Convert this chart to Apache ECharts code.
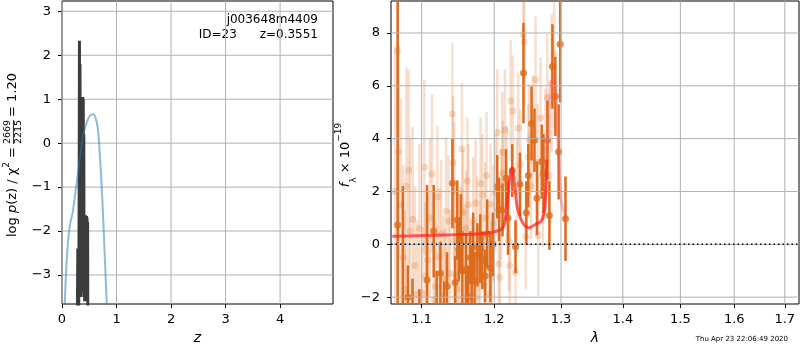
<!DOCTYPE html>
<html>
<head>
<meta charset="utf-8">
<script src="https://cdn.jsdelivr.net/npm/echarts@6/dist/echarts.min.js"></script>
<style>
  html, body { margin: 0; padding: 0; background: #fff; }
  #main { width: 800px; height: 350px; }
</style>
</head>
<body>
<div id="main"></div>
<script>
// p(z) panel
const zRange = [0, 4.97]
const logpRange = [-3.66, 3.234]
const zTicks = [0, 1, 2, 3, 4]
const logpTicks = [-3, -2, -1, 0, 1, 2, 3]
// thin curve (blue)
const blueZ = [0.03, 0.05, 0.08, 0.11, 0.14, 0.17, 0.20, 0.26, 0.325, 0.385, 0.447, 0.51, 0.57, 0.61, 0.66, 0.70, 0.74, 0.78, 0.82, 0.84]
const blueLogp = [-4.5, -3.66, -2.8, -2.25, -1.9, -1.72, -1.55, -0.99, -0.38, 0.15, 0.45, 0.62, 0.66, 0.6, 0.3, -0.38, -1.29, -2.43, -3.66, -4.3]
// spiky curve (black)
const blackZ = [0.27, 0.28, 0.29, 0.30, 0.31, 0.315, 0.32, 0.325, 0.33, 0.335, 0.34, 0.345, 0.35, 0.355, 0.36, 0.365, 0.37, 0.375, 0.38, 0.385, 0.39, 0.395, 0.40, 0.405, 0.41, 0.415, 0.42, 0.425, 0.43, 0.435, 0.44, 0.445, 0.45, 0.455, 0.46, 0.465, 0.47, 0.475, 0.48, 0.49]
const blackLogp = [-6, -6, -2.4, -6, -6, -1, 2.33, -3, 1.8, -2, 0.5, -3.5, 0.4, -3, 0.5, -2, 0.3, -3.4, 1.05, -1, 1.0, -3.3, 0.2, -3.5, -1.7, -3.6, -1.65, -3.5, -1.64, -3.6, -1.7, -3.5, -1.66, -3.6, -1.7, -3.5, -1.8, -6, -6, -6]

// spectrum panel
const lamRange = [1.0603, 1.7292]
const fluxRange = [-2.26, 9.21]
const lamTicks = [1.1, 1.2, 1.3, 1.4, 1.5, 1.6, 1.7]
const fluxTicks = [-2, 0, 2, 4, 6, 8]
const lightLam = [1.0655, 1.0688, 1.073, 1.078, 1.080, 1.085, 1.0882, 1.094, 1.101, 1.1035, 1.108, 1.1138, 1.118, 1.1236, 1.129, 1.1326, 1.136, 1.138, 1.1413, 1.1422, 1.1435, 1.146, 1.150, 1.153, 1.1545, 1.156, 1.160, 1.1634, 1.167, 1.1735, 1.176, 1.178, 1.1805, 1.183, 1.186, 1.187, 1.1948, 1.196, 1.2017, 1.2044, 1.2066, 1.2081, 1.2116, 1.2125, 1.2155, 1.2214, 1.2225, 1.2239, 1.2272, 1.231, 1.235, 1.2425, 1.244, 1.246, 1.25, 1.2515, 1.261, 1.265, 1.2686, 1.2787, 1.2854, 1.2893,
  1.070, 1.076, 1.083, 1.091, 1.097, 1.105, 1.111, 1.116, 1.121, 1.126, 1.131, 1.144, 1.148, 1.158, 1.162, 1.165, 1.170, 1.174, 1.180, 1.189, 1.192, 1.199, 1.210, 1.218, 1.233, 1.238, 1.254, 1.257, 1.264, 1.272, 1.276, 1.282]
const lightFlux = [2.0, 7.33, 1.5, -1.72, 2.2, 0.5, 0.95, -1.9, -1.85, 2.92, -0.6, 2.67, -1.6, -0.47, -1.3, 1.26, 0.88, -1.1, 4.93, 3.1, 0.13, -1.17, -0.4, -0.03, 3.61, 1.2, 0.6, 1.5, -1.15, 1.55, 0.38, -1.4, 2.3, 1.87, -1.55, 1.0, 1.52, -1.15, 1.95, 4.23, -0.75, -1.25, 3.48, 2.68, 4.33, 0.13, -0.8, 5.43, 5.05, -1.05, 4.4, 7.94, 7.66, 0.3, 3.3, 3.96, 6.23, 0.33, 4.78, 5.56, 6.1, 7.2,
  3.5, -0.5, 2.8, -0.8, 0.6, -1.2, 1.0, -2.1, 1.8, 0.4, -1.9, 2.0, -1.7, -0.9, 2.4, -1.9, 0.9, -2.0, -0.5, 2.6, -1.9, 0.8, 1.5, 2.3, 2.0, 3.0, 2.2, 4.2, 3.1, 2.0, 3.6, 2.6]
const lightErr = [5.5, 3.0, 4.0, 3.0, 4.5, 3.5, 3.5, 2.8, 2.5, 3.3, 2.5, 3.0, 2.5, 2.6, 2.4, 2.8, 2.5, 2.4, 2.7, 2.5, 2.3, 2.2, 2.3, 2.2, 2.5, 2.4, 2.2, 2.3, 2.0, 2.4, 2.2, 2.0, 2.5, 2.3, 2.0, 2.1, 2.3, 1.9, 2.2, 2.4, 1.9, 1.8, 2.3, 2.0, 2.3, 1.9, 1.7, 2.3, 2.1, 1.8, 2.1, 2.6, 2.4, 2.0, 2.0, 2.1, 2.4, 2.3, 2.3, 2.4, 2.6, 2.8,
  4.0, 3.5, 3.8, 3.0, 3.2, 2.8, 3.0, 2.6, 2.7, 2.8, 2.5, 2.6, 2.3, 2.4, 2.4, 2.2, 2.4, 2.1, 2.2, 2.4, 2.0, 2.2, 2.1, 2.2, 2.0, 2.1, 2.0, 2.2, 2.2, 2.1, 2.3, 2.3]
const darkLam = [1.0688, 1.0755, 1.082, 1.088, 1.097, 1.1071, 1.116, 1.120, 1.125, 1.130, 1.134, 1.1413, 1.145, 1.148, 1.150, 1.153, 1.155, 1.160, 1.163, 1.166, 1.168, 1.170, 1.172, 1.176, 1.180, 1.183, 1.187, 1.190, 1.1945, 1.198, 1.2042, 1.207, 1.212, 1.217, 1.220, 1.2262, 1.2310, 1.2376, 1.2428, 1.2471, 1.2500, 1.2549, 1.2593, 1.263, 1.2704, 1.2729, 1.279, 1.282, 1.2867, 1.2912, 1.2963, 1.2987, 1.307]
const darkFlux = [0.73, -2.5, -2.0, -2.6, -2.9, -1.35, 0.5, -2.3, -1.1, -2.4, -1.6, 2.31, -1.45, 0.92, -0.2, 0.4, -1.0, -0.97, -2.0, -0.5, -1.28, -0.1, -1.4, -0.4, -0.16, -0.6, -1.2, 0.4, -0.9, 0.0, 2.18, 1.32, 1.3, 2.5, 1.0, 2.79, -0.09, 2.27, 6.48, 1.19, 2.6, 4.57, 3.94, 1.74, 3.13, 2.68, 3.94, 1.09, 6.73, 5.6, 3.5, 7.57, 0.97]
const darkErr = [9.5, 4.7, 1.2, 1.3, 1.2, 3.6, 1.75, 1.3, 1.2, 1.0, 1.3, 1.7, 1.0, 1.5, 1.2, 1.5, 1.3, 1.4, 1.2, 1.0, 1.2, 1.3, 1.1, 1.2, 1.3, 1.1, 1.0, 1.3, 1.3, 1.2, 1.2, 1.2, 1.0, 1.1, 1.4, 1.0, 1.0, 1.2, 1.9, 1.2, 1.2, 1.4, 1.2, 1.4, 1.4, 1.5, 1.5, 1.3, 1.6, 1.5, 1.8, 2.2, 1.6]
// model (two segments)
const modelLam1 = [1.062, 1.10, 1.14, 1.18, 1.19, 1.20, 1.21, 1.215, 1.219, 1.223, 1.2263, 1.229, 1.2336, 1.24, 1.246, 1.2515, 1.2575, 1.2625, 1.2704, 1.275, 1.278]
const modelFlux1 = [0.3, 0.33, 0.36, 0.40, 0.43, 0.48, 0.56, 0.8, 1.6, 2.6, 2.9, 2.4, 1.4, 0.9, 0.68, 0.63, 0.7, 0.78, 0.9, 1.4, 3.2]
const modelLam2 = [1.27, 1.275, 1.278, 1.283, 1.2888, 1.2925, 1.296, 1.30, 1.306]
const modelFlux2 = [0.9, 1.4, 3.2, 5.7, 6.42, 5.5, 3.6, 1.7, 1.1]

const FONT = 'DejaVu Sans'
const ORANGE = '#dd6b1d'
const ORANGE_LIGHT = 'rgba(221,107,29,0.22)'
const GRID_GRAY = '#b0b0b0'

const zip = (a, b) => a.map((v, i) => [v, b[i]])
const zip3 = (a, b, c) => a.map((v, i) => [v, b[i], c[i]])
const minus = v => (v < 0 ? '\u2212' : '') + Math.abs(v)

function axisBase(ticks, fmt, margin) {
  return {
    axisLine: { show: false, onZero: false },
    axisTick: { show: true, length: 4, lineStyle: { color: '#000' }, customValues: ticks },
    axisLabel: { customValues: ticks, color: '#000', fontSize: 13, fontFamily: FONT, margin: margin, formatter: fmt },
    splitLine: { show: false }
  }
}

// grid: one plain two-point line series per tick
function gridSeries(idx, xTicks, yTicks, xRange, yRange) {
  const seg = pts => ({
    type: 'line', xAxisIndex: idx, yAxisIndex: idx, data: pts,
    showSymbol: false, silent: true, clip: false,
    lineStyle: { color: GRID_GRAY, width: 1 }
  })
  return xTicks.map(v => seg([[v, yRange[0]], [v, yRange[1]]]))
    .concat(yTicks.map(v => seg([[xRange[0], v], [xRange[1], v]])))
}

function errBars(color) {
  return function (params, api) {
    const lo = api.coord([api.value(0), api.value(1) - api.value(2)])
    const hi = api.coord([api.value(0), api.value(1) + api.value(2)])
    return {
      type: 'line',
      shape: { x1: lo[0], y1: lo[1], x2: hi[0], y2: hi[1] },
      style: { stroke: color, lineWidth: 2.5 }
    }
  }
}

const option = {
  animation: false,
  backgroundColor: '#fff',
  grid: [
    { left: 62, top: 1, width: 271, height: 303, show: true, backgroundColor: 'transparent', borderColor: '#000', borderWidth: 1 },
    { left: 391, top: 1, width: 408, height: 303, show: true, backgroundColor: 'transparent', borderColor: '#000', borderWidth: 1 }
  ],
  xAxis: [
    Object.assign(axisBase(zTicks, v => String(v), 9), {
      type: 'value', gridIndex: 0, min: zRange[0], max: zRange[1],
      name: 'z', nameLocation: 'middle', nameGap: 27,
      nameTextStyle: { fontSize: 14, fontStyle: 'italic', fontFamily: FONT, color: '#000' }
    }),
    Object.assign(axisBase(lamTicks, v => Number(v).toFixed(1), 9), {
      type: 'log', logBase: 10, gridIndex: 1, min: lamRange[0], max: lamRange[1],
      name: 'λ', nameLocation: 'middle', nameGap: 27,
      nameTextStyle: { fontSize: 14, fontStyle: 'italic', fontFamily: FONT, color: '#000' }
    })
  ],
  yAxis: [
    Object.assign(axisBase(logpTicks, minus, 11), { type: 'value', gridIndex: 0, min: logpRange[0], max: logpRange[1] }),
    Object.assign(axisBase(fluxTicks, minus, 11), { type: 'value', gridIndex: 1, min: fluxRange[0], max: fluxRange[1] })
  ],
  graphic: [
    { type: 'text', x: 318, y: 20, style: { text: 'j003648m4409', fill: '#000', fontSize: 12, fontFamily: FONT, align: 'right', verticalAlign: 'middle' } },
    { type: 'text', x: 318, y: 35, style: { text: 'ID=23      z=0.3551', fill: '#000', fontSize: 12, fontFamily: FONT, align: 'right', verticalAlign: 'middle' } },
    {
      type: 'group', x: 13, y: 132, rotation: Math.PI / 2,
      children: [
        { type: 'text', x: -15, y: 0, style: {
          text: '{t|log }{i|p}{t|(z) / χ}{s|2}{t| =}', align: 'right', verticalAlign: 'middle', fill: '#000',
          rich: {
            t: { fontSize: 13, fontFamily: FONT, lineHeight: 22 },
            i: { fontSize: 13, fontFamily: FONT, fontStyle: 'italic', lineHeight: 22 },
            s: { fontSize: 9, fontFamily: FONT, verticalAlign: 'top', lineHeight: 22 }
          }
        } },
        { type: 'text', x: 0, y: -5, style: { text: '2669', fontSize: 9.5, fontFamily: FONT, fill: '#000', align: 'center', verticalAlign: 'middle' } },
        { type: 'line', shape: { x1: -12, y1: 0.5, x2: 12, y2: 0.5 }, style: { stroke: '#000', lineWidth: 0.8 } },
        { type: 'text', x: 0, y: 6, style: { text: '2215', fontSize: 9.5, fontFamily: FONT, fill: '#000', align: 'center', verticalAlign: 'middle' } },
        { type: 'text', x: 15, y: 0, style: { text: '= 1.20', fontSize: 13, fontFamily: FONT, fill: '#000', align: 'left', verticalAlign: 'middle' } }
      ]
    },
    {
      type: 'group', x: 346, y: 155, rotation: Math.PI / 2,
      children: [
        { type: 'text', x: 0, y: 0, style: {
          text: '{i|f}{b|λ}{t| × 10}{p|−19}', align: 'center', verticalAlign: 'middle', fill: '#000',
          rich: {
            t: { fontSize: 13, fontFamily: FONT, lineHeight: 24 },
            i: { fontSize: 13, fontFamily: FONT, fontStyle: 'italic', lineHeight: 24 },
            b: { fontSize: 9, fontFamily: FONT, verticalAlign: 'bottom', lineHeight: 24 },
            p: { fontSize: 9, fontFamily: FONT, verticalAlign: 'top', lineHeight: 24 }
          }
        } }
      ]
    },
    { type: 'text', x: 788, y: 339, style: { text: 'Thu Apr 23 22:06:49 2020', fill: '#000', fontSize: 7, fontFamily: FONT, align: 'right', verticalAlign: 'middle' } }
  ],
  series: [
    ...gridSeries(0, zTicks, logpTicks, zRange, logpRange),
    ...gridSeries(1, lamTicks, fluxTicks, lamRange, fluxRange),
    {
      type: 'line', xAxisIndex: 0, yAxisIndex: 0, data: zip(blackZ, blackLogp),
      showSymbol: false, clip: true, lineStyle: { color: '#3c3c3c', width: 3 }
    },
    {
      type: 'line', xAxisIndex: 0, yAxisIndex: 0, data: zip(blueZ, blueLogp),
      showSymbol: false, smooth: 0.3, clip: true, lineStyle: { color: 'rgba(31,119,180,0.5)', width: 2 }
    },
    {
      type: 'custom', xAxisIndex: 1, yAxisIndex: 1, clip: true,
      data: zip3(lightLam, lightFlux, lightErr), encode: { x: 0, y: 1 },
      renderItem: errBars(ORANGE_LIGHT)
    },
    {
      type: 'scatter', xAxisIndex: 1, yAxisIndex: 1, data: zip(lightLam, lightFlux),
      symbolSize: 7, itemStyle: { color: 'rgba(221,107,29,0.28)' }
    },
    {
      type: 'line', xAxisIndex: 1, yAxisIndex: 1, data: [[lamRange[0], 0], [lamRange[1], 0]],
      showSymbol: false, lineStyle: { color: '#000', width: 1.5, type: [1.5, 3] }
    },
    {
      type: 'custom', xAxisIndex: 1, yAxisIndex: 1, clip: true,
      data: zip3(darkLam, darkFlux, darkErr), encode: { x: 0, y: 1 },
      renderItem: errBars(ORANGE)
    },
    {
      type: 'scatter', xAxisIndex: 1, yAxisIndex: 1, data: zip(darkLam, darkFlux),
      symbolSize: 7, itemStyle: { color: ORANGE }
    },
    {
      type: 'line', xAxisIndex: 1, yAxisIndex: 1, data: zip(modelLam2, modelFlux2),
      showSymbol: false, smooth: 0.3, lineStyle: { color: 'rgba(255,90,90,0.4)', width: 3 }
    },
    {
      type: 'line', xAxisIndex: 1, yAxisIndex: 1, data: zip(modelLam1, modelFlux1),
      showSymbol: false, smooth: 0.3, lineStyle: { color: 'rgba(255,30,30,0.7)', width: 3 }
    }
  ]
}

const chart = echarts.init(document.getElementById('main'))
chart.setOption(option)
</script>
</body>
</html>
